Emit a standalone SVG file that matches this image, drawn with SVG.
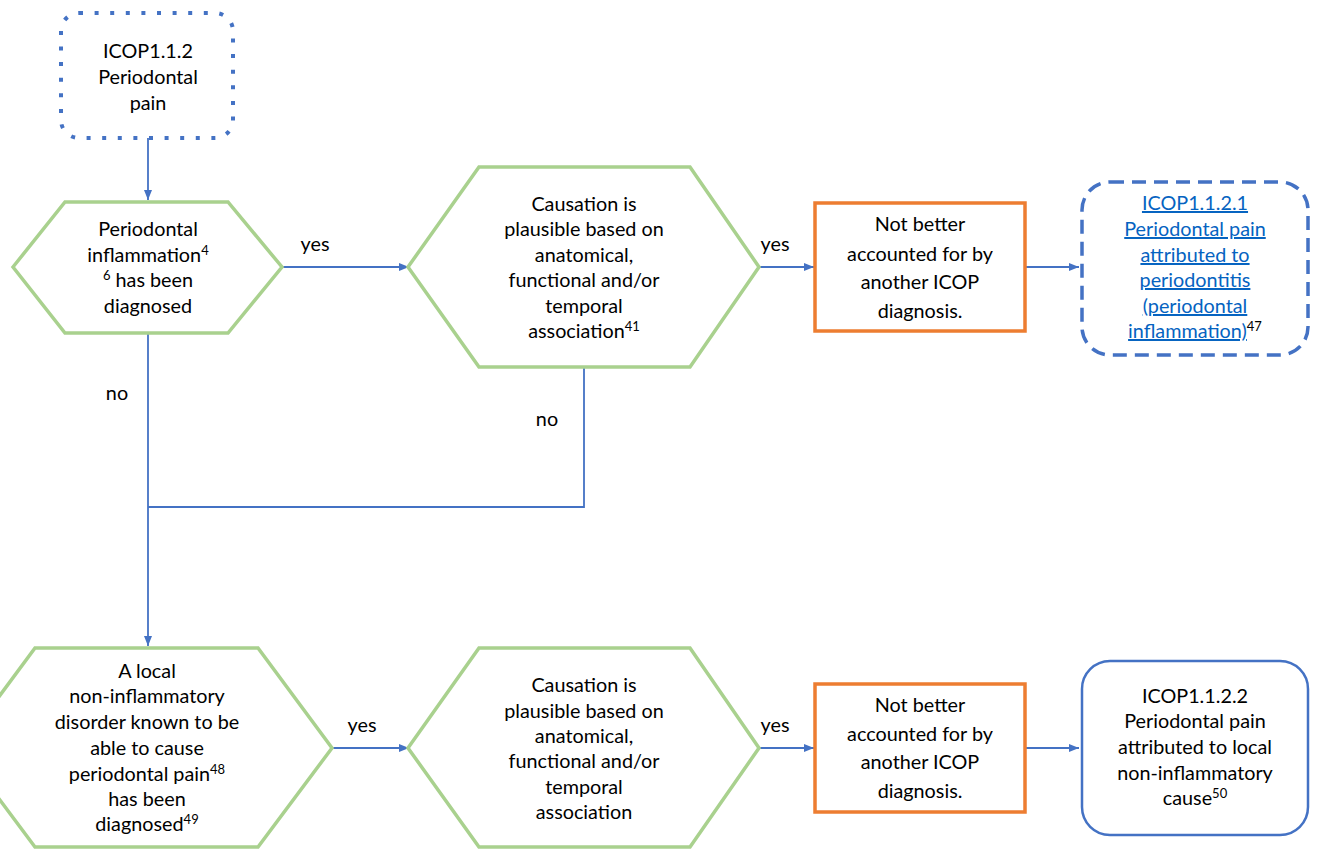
<svg xmlns="http://www.w3.org/2000/svg" width="1318" height="850" viewBox="0 0 1318 850">
<style>
text{font-family:Lato,"Liberation Sans",sans-serif;font-size:19.8px;fill:#000;text-anchor:middle}
.hex{fill:#fff;stroke:#A9D18E;stroke-width:3.5}
.orange{fill:#fff;stroke:#ED7D31;stroke-width:3.5}
.conn{fill:none;stroke:#4472C4;stroke-width:1.8}
.link{fill:#0563C1;text-decoration:underline}
.sup{font-size:13px}
</style>
<defs>
<marker id="ah" viewBox="0 0 10 10" refX="10" refY="5" markerWidth="10" markerHeight="10" markerUnits="userSpaceOnUse" orient="auto">
<path d="M0,1 L10,5 L0,9 z" fill="#4472C4"/>
</marker>
</defs>
<rect width="1318" height="850" fill="#fff"/>
<g id="connectors">
<path class="conn" d="M148,138 V200" marker-end="url(#ah)"/>
<path class="conn" d="M282,267 H409" marker-end="url(#ah)"/>
<path class="conn" d="M759,267 H814" marker-end="url(#ah)"/>
<path class="conn" d="M1025,267 H1079" marker-end="url(#ah)"/>
<path class="conn" d="M584,367 V507 H148"/>
<path class="conn" d="M148,333 V646" marker-end="url(#ah)"/>
<path class="conn" d="M332,748 H409" marker-end="url(#ah)"/>
<path class="conn" d="M759,748 H814" marker-end="url(#ah)"/>
<path class="conn" d="M1025,748 H1079" marker-end="url(#ah)"/>
<text x="315" y="251">yes</text>
<text x="775" y="251">yes</text>
<text x="117" y="400">no</text>
<text x="547" y="426">no</text>
<text x="362" y="732">yes</text>
<text x="775" y="732">yes</text>
</g>
<g id="start">
<rect x="61" y="13" width="172" height="125" rx="18" fill="#fff" stroke="#4472C4" stroke-width="4" stroke-dasharray="4 11.6"/>
<text x="148" y="58">ICOP1.1.2</text>
<text x="148" y="84">Periodontal</text>
<text x="148" y="110">pain</text>
</g>
<g id="q1">
<polygon class="hex" points="13,267 65,202 228,202 282,267 228,333 65,333"/>
<text x="148" y="236">Periodontal</text>
<text x="148" y="262">inflammation<tspan class="sup" dy="-7">4</tspan></text>
<text x="148" y="287"><tspan class="sup" dy="-7">6</tspan><tspan dy="7"> has been</tspan></text>
<text x="148" y="313">diagnosed</text>
</g>
<g id="q2">
<polygon class="hex" points="408,267 479,167 690,167 759,267 690,367 479,367"/>
<text x="584" y="211">Causation is</text>
<text x="584" y="236">plausible based on</text>
<text x="584" y="262">anatomical,</text>
<text x="584" y="287">functional and/or</text>
<text x="584" y="313">temporal</text>
<text x="584" y="338">association<tspan class="sup" dy="-7">41</tspan></text>
</g>
<g id="q3">
<rect class="orange" x="815" y="203" width="210" height="128"/>
<text x="920" y="231">Not better</text>
<text x="920" y="261">accounted for by</text>
<text x="920" y="289">another ICOP</text>
<text x="920" y="318">diagnosis.</text>
</g>
<g id="d1">
<rect x="1082" y="182" width="226" height="173" rx="28" fill="#fff" stroke="#4472C4" stroke-width="3.5" stroke-dasharray="14 8"/>
<text x="1195" y="210" class="link">ICOP1.1.2.1</text>
<text x="1195" y="236" class="link">Periodontal pain</text>
<text x="1195" y="262" class="link">attributed to</text>
<text x="1195" y="287" class="link">periodontitis</text>
<text x="1195" y="313" class="link">(periodontal</text>
<text x="1195" y="338"><tspan class="link">inflammation)</tspan><tspan class="sup" dy="-7">47</tspan></text>
</g>
<g id="q4">
<polygon class="hex" points="-39,748 35,648 258,648 332,748 258,847 35,847"/>
<text x="147" y="678">A local</text>
<text x="147" y="703">non-inflammatory</text>
<text x="147" y="729">disorder known to be</text>
<text x="147" y="755">able to cause</text>
<text x="147" y="781">periodontal pain<tspan class="sup" dy="-7">48</tspan></text>
<text x="147" y="806">has been</text>
<text x="147" y="831">diagnosed<tspan class="sup" dy="-7">49</tspan></text>
</g>
<g id="q5">
<polygon class="hex" points="408,748 479,648 690,648 759,748 690,847 479,847"/>
<text x="584" y="692">Causation is</text>
<text x="584" y="718">plausible based on</text>
<text x="584" y="743">anatomical,</text>
<text x="584" y="768">functional and/or</text>
<text x="584" y="794">temporal</text>
<text x="584" y="819">association</text>
</g>
<g id="q6">
<rect class="orange" x="815" y="684" width="210" height="128"/>
<text x="920" y="712">Not better</text>
<text x="920" y="741">accounted for by</text>
<text x="920" y="769">another ICOP</text>
<text x="920" y="798">diagnosis.</text>
</g>
<g id="d2">
<rect x="1082" y="661" width="226" height="174" rx="28" fill="#fff" stroke="#4472C4" stroke-width="2.5"/>
<text x="1195" y="703">ICOP1.1.2.2</text>
<text x="1195" y="728">Periodontal pain</text>
<text x="1195" y="754">attributed to local</text>
<text x="1195" y="780">non-inflammatory</text>
<text x="1195" y="805">cause<tspan class="sup" dy="-7">50</tspan></text>
</g>
</svg>
